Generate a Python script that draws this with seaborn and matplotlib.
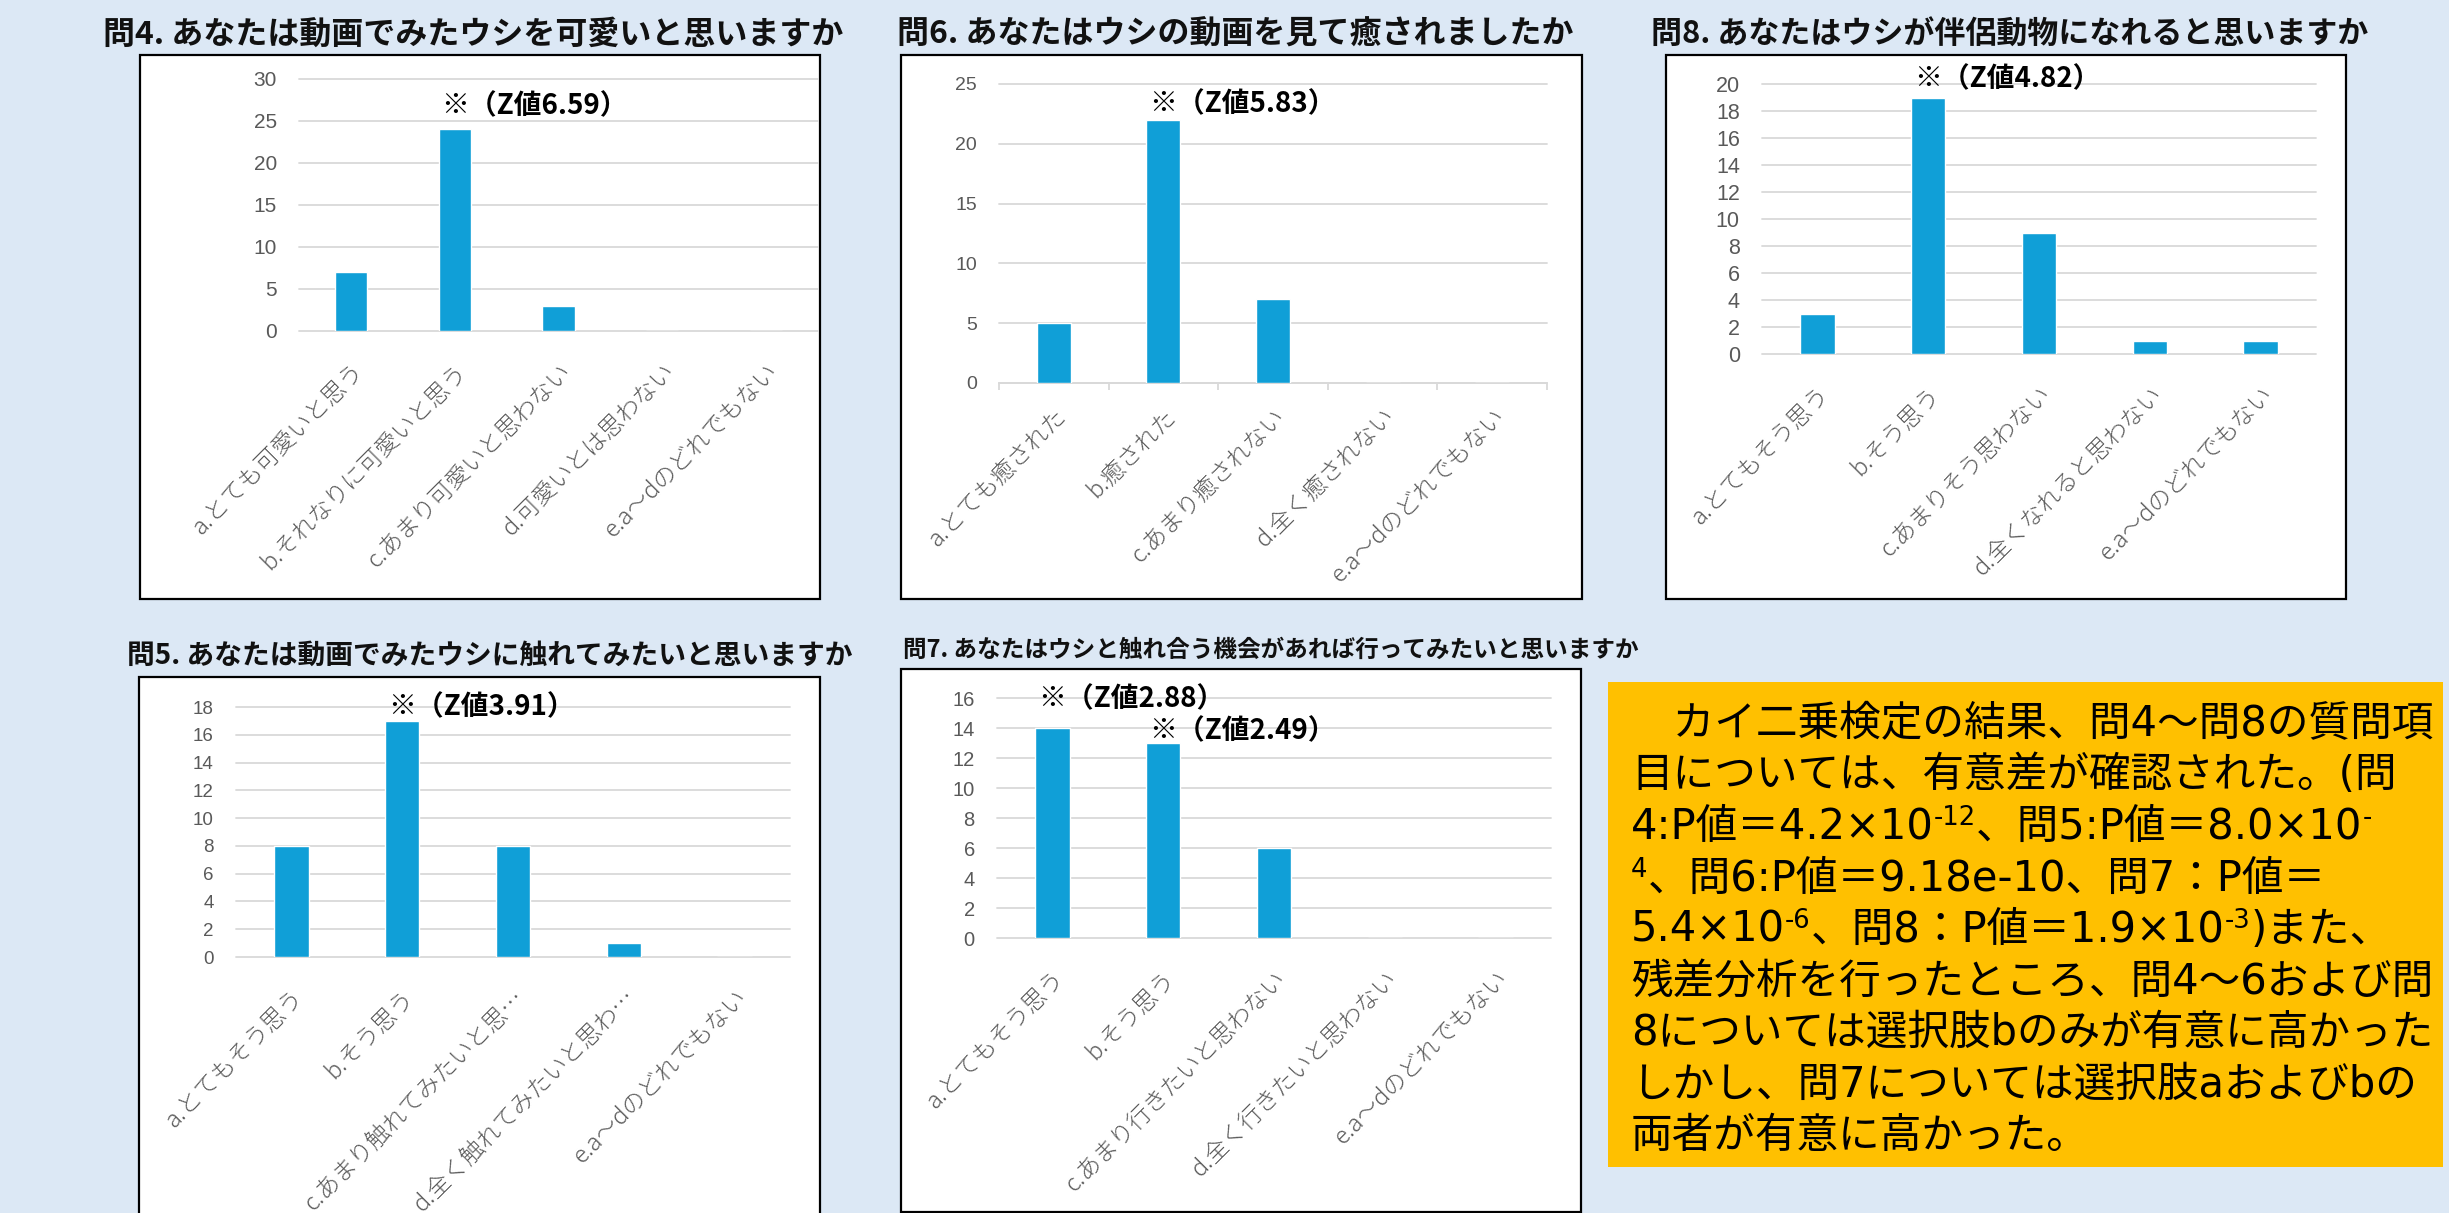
import matplotlib
matplotlib.use("Agg")
import matplotlib.pyplot as plt
from matplotlib.patches import Rectangle
import seaborn as sns
import pandas as pd

# ---------------- data ----------------
q4_title = "問4. あなたは動画でみたウシを可愛いと思いますか"
q4_labels = ["a.とても可愛いと思う", "b.それなりに可愛いと思う", "c.あまり可愛いと思わない",
             "d.可愛いとは思わない", "e.a～dのどれでもない"]
q4_counts = [7, 24, 3, 0, 0]
q4_yticks = [0, 5, 10, 15, 20, 25, 30]
q4_notes = [(1, "6.59")]

q6_title = "問6. あなたはウシの動画を見て癒されましたか"
q6_labels = ["a.とても癒された", "b.癒された", "c.あまり癒されない", "d.全く癒されない",
             "e.a～dのどれでもない"]
q6_counts = [5, 22, 7, 0, 0]
q6_yticks = [0, 5, 10, 15, 20, 25]
q6_notes = [(1, "5.83")]

q8_title = "問8. あなたはウシが伴侶動物になれると思いますか"
q8_labels = ["a.とてもそう思う", "b.そう思う", "c.あまりそう思わない", "d.全くなれると思わない",
             "e.a～dのどれでもない"]
q8_counts = [3, 19, 9, 1, 1]
q8_yticks = [0, 2, 4, 6, 8, 10, 12, 14, 16, 18, 20]
q8_notes = [(1, "4.82")]

q5_title = "問5. あなたは動画でみたウシに触れてみたいと思いますか"
q5_labels = ["a.とてもそう思う", "b.そう思う", "c.あまり触れてみたいと思…", "d.全く触れてみたいと思わ…",
             "e.a～dのどれでもない"]
q5_counts = [8, 17, 8, 1, 0]
q5_yticks = [0, 2, 4, 6, 8, 10, 12, 14, 16, 18]
q5_notes = [(1, "3.91")]

q7_title = "問7. あなたはウシと触れ合う機会があれば行ってみたいと思いますか"
q7_labels = ["a.とてもそう思う", "b.そう思う", "c.あまり行きたいと思わない", "d.全く行きたいと思わない",
             "e.a～dのどれでもない"]
q7_counts = [14, 13, 6, 0, 0]
q7_yticks = [0, 2, 4, 6, 8, 10, 12, 14, 16]
q7_notes = [(0, "2.88"), (1, "2.49")]

summary_lines = [
    [("\u3000カイ二乗検定の結果、問4～問8の質問項", False)],
    [("目については、有意差が確認された。(問", False)],
    [("4:P値＝4.2×10", False), ("-12", True), ("、問5:P値＝8.0×10", False), ("-", True)],
    [("4", True), ("、問6:P値＝9.18e-10、問7：P値＝", False)],
    [("5.4×10", False), ("-6", True), ("、問8：P値＝1.9×10", False), ("-3", True), (")また、", False)],
    [("残差分析を行ったところ、問4～6および問", False)],
    [("8については選択肢bのみが有意に高かった", False)],
    [("しかし、問7については選択肢aおよびbの", False)],
    [("両者が有意に高かった。", False)],
]

# ---------------- style / layout ----------------
sns.set_theme(style="white")
CJK = ["Noto Sans CJK JP", "DejaVu Sans"]
plt.rcParams["font.family"] = CJK

W, H = 2449, 1213
BG = "#DCE8F5"
BAR = "#109FD7"
GRID = "#D9D9D9"
TICK = "#595959"

fig = plt.figure(figsize=(W / 100, H / 100), dpi=100)
fig.patch.set_facecolor(BG)


def fx(x):
    return x / W


def fy(y):
    return 1 - y / H


panels = [
    dict(title=q4_title, labels=q4_labels, counts=q4_counts, yticks=q4_yticks, notes=q4_notes,
         box=(140, 55, 820, 599), ax=(299, 79, 818, 331), tpos=(103, 35, 23), ysize=15,
         dy=[16.5], axisline=False),
    dict(title=q6_title, labels=q6_labels, counts=q6_counts, yticks=q6_yticks, notes=q6_notes,
         box=(901, 55, 1582, 599), ax=(999, 84, 1547, 383), tpos=(897, 35, 23), ysize=14,
         dy=[11], axisline=True),
    dict(title=q8_title, labels=q8_labels, counts=q8_counts, yticks=q8_yticks, notes=q8_notes,
         box=(1666, 55, 2346, 599), ax=(1762, 84, 2316, 354), tpos=(1651, 35, 22.3), ysize=15.5,
         dy=[13], axisline=False),
    dict(title=q5_title, labels=q5_labels, counts=q5_counts, yticks=q5_yticks, notes=q5_notes,
         box=(139, 677, 820, 1230), ax=(236, 707, 790, 957), tpos=(127, 656, 20), ysize=13.5,
         dy=[10], axisline=False),
    dict(title=q7_title, labels=q7_labels, counts=q7_counts, yticks=q7_yticks, notes=q7_notes,
         box=(901, 669, 1581, 1212), ax=(997, 698, 1551, 938), tpos=(903, 650, 17), ysize=14.5,
         dy=[21, 8.5], axisline=False),
]

for p in panels:
    x0, y0, x1, y1 = p["box"]
    fig.add_artist(Rectangle((fx(x0), fy(y1)), (x1 - x0) / W, (y1 - y0) / H,
                             transform=fig.transFigure, facecolor="white",
                             edgecolor="black", lw=1.6, zorder=0))
    tx, ty, ts = p["tpos"]
    fig.text(fx(tx), fy(ty), p["title"], fontsize=ts, ha="left", va="center",
             color="#111111", family=CJK, fontweight="semibold")

    ax0, ay_top, ax1, ay_bot = p["ax"]
    ax = fig.add_axes([fx(ax0), fy(ay_bot), (ax1 - ax0) / W, (ay_bot - ay_top) / H])
    ax.set_facecolor("none")
    df = pd.DataFrame({"label": p["labels"], "count": p["counts"]})
    sns.barplot(data=df, x="label", y="count", ax=ax, color=BAR, saturation=1,
                width=0.31, zorder=3)
    ax.set_xlabel("")
    ax.set_ylabel("")
    ax.set_ylim(p["yticks"][0], p["yticks"][-1])
    ax.set_xlim(-0.5, len(p["labels"]) - 0.5)
    ax.set_yticks(p["yticks"])
    ax.grid(axis="y", color=GRID, lw=1.3)
    ax.grid(axis="x", visible=False)
    ax.set_axisbelow(True)
    for gl in ax.get_ygridlines():
        gl.set_clip_on(False)
    for s in ax.spines.values():
        s.set_visible(False)

    ax.tick_params(axis="y", length=0, pad=16, labelsize=p["ysize"], labelcolor=TICK)
    for lb in ax.get_yticklabels():
        lb.set_fontfamily(["Liberation Sans", "DejaVu Sans"])

    ax.set_xticks(range(len(p["labels"])))
    if p["axisline"]:
        ax.spines["bottom"].set_visible(True)
        ax.spines["bottom"].set_color(GRID)
        ax.spines["bottom"].set_linewidth(1.3)
        ax.set_xticks([i - 0.5 for i in range(len(p["labels"]) + 1)], minor=True)
        ax.tick_params(axis="x", which="minor", bottom=True, length=5, width=1.3,
                       color=GRID, direction="out")
        pad = 15
    else:
        pad = 20
    ax.tick_params(axis="x", which="major", length=0, pad=pad)
    ax.set_xticklabels(p["labels"], rotation=45, ha="right", va="top",
                       rotation_mode="anchor", fontsize=17, color=TICK,
                       fontweight="light")

    for (idx, z), d in zip(p["notes"], p["dy"]):
        ax.annotate(f"※（Z値{z}）", xy=(idx, p["counts"][idx]), xytext=(-10, d),
                    textcoords="offset points", ha="left", va="center",
                    fontsize=20, fontweight="bold", color="black",
                    annotation_clip=False, zorder=5)

# ---------------- summary text box ----------------
fig.add_artist(Rectangle((fx(1608), fy(1167)), (2443 - 1608) / W, (1167 - 682) / H,
                         transform=fig.transFigure, facecolor="#FFC000",
                         edgecolor="none", zorder=0))

renderer = fig.canvas.get_renderer()
TXT_FAM = ["DejaVu Sans", "Noto Sans CJK JP"]
TXT_SIZE = 30
PX = 100 / 72
for k, segs in enumerate(summary_lines):
    x = 1631
    base = 736 + 51.5 * k
    for txt, sup in segs:
        fs = TXT_SIZE * 0.62 if sup else TXT_SIZE
        lift = TXT_SIZE * PX * 0.33 if sup else 0
        t = fig.text(fx(x), fy(base - lift), txt, fontsize=fs, ha="left", va="baseline",
                     family=TXT_FAM, color="black")
        bb = t.get_window_extent(renderer)
        x = bb.x1

fig.savefig("out.png", dpi=100, facecolor=BG)
